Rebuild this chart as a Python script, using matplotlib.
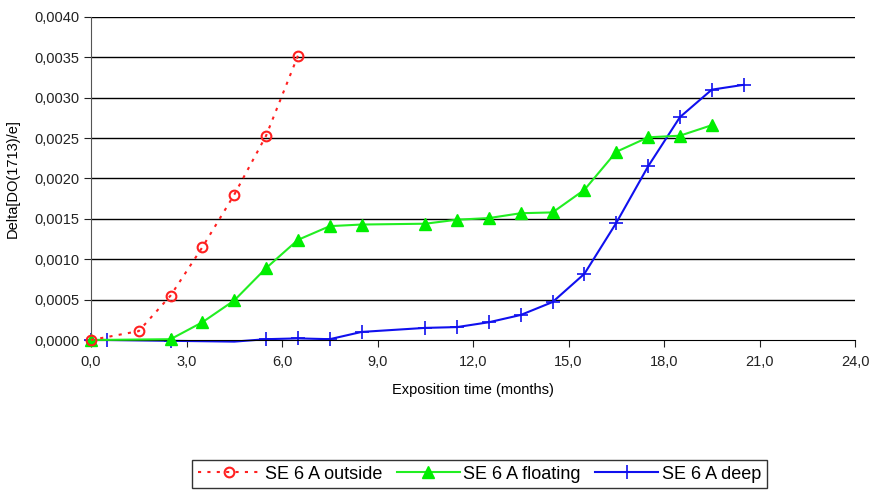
import numpy as np
import matplotlib
matplotlib.use("Agg")
import matplotlib.pyplot as plt
from matplotlib.ticker import FuncFormatter, MultipleLocator

plt.rcParams['font.family'] = ['Liberation Sans', 'DejaVu Sans']

# data
t_outside = [0, 1.5, 2.5, 3.5, 4.5, 5.5, 6.5]
outside = [0.0, 0.00011, 0.00055, 0.00115, 0.00180, 0.00253, 0.00352]

t_floating = [0, 2.5, 3.5, 4.5, 5.5, 6.5, 7.5, 8.5, 10.5, 11.5, 12.5, 13.5, 14.5,
              15.5, 16.5, 17.5, 18.5, 19.5]
floating = [0.0, 0.00001, 0.00022, 0.00049, 0.00089, 0.00124, 0.00141, 0.00143,
            0.00144, 0.00149, 0.00151, 0.00157, 0.00158, 0.00186, 0.00233,
            0.00251, 0.00253, 0.00266]

t_deep = [0, 0.5, 2.5, 4.5, 5.5, 6.5, 7.5, 8.5, 10.5, 11.5, 12.5, 13.5, 14.5,
          15.5, 16.5, 17.5, 18.5, 19.5, 20.5]
deep = [0.0, 0.0, -0.00001, -0.00002, 0.00001, 0.00002, 0.00001, 0.00010, 0.00015,
        0.00016, 0.00022, 0.00031, 0.00047, 0.00082, 0.00145, 0.00215, 0.00276,
        0.00310, 0.00316]

fig = plt.figure(figsize=(8.72, 4.94), dpi=100)
ax = fig.add_axes([91 / 872, 1 - 340 / 494, (855 - 91) / 872, (340 - 17) / 494])

for y in np.arange(0.0005, 0.0041, 0.0005):
    ax.axhline(y, color='black', lw=1.0, zorder=0)

ax.plot(t_outside, outside, color='#ff2020', ls=(0, (1.5, 3)), lw=1.5,
        marker='o', ms=7, mfc='none', mec='#ff2020', mew=1.5, label='SE 6 A outside',
        zorder=4, clip_on=False)
ax.plot(t_floating, floating, color='#22ee22', lw=1.5, marker='^', ms=8,
        mfc='#00ee00', mec='#00ee00', label='SE 6 A floating', zorder=3, clip_on=False)
ax.plot(t_deep, deep, color='#1010ee', lw=1.5, marker='+', ms=10, mew=1.2,
        markevery=[0, 1, 2, 4, 5, 6, 7, 8, 9, 10, 11, 12, 13, 14, 15, 16, 17, 18],
        label='SE 6 A deep', zorder=2, clip_on=False)

ax.set_xlim(0, 24)
ax.set_ylim(0, 0.004)
ax.xaxis.set_major_locator(MultipleLocator(3))
ax.yaxis.set_major_locator(MultipleLocator(0.0005))
ax.xaxis.set_major_formatter(FuncFormatter(lambda v, p: f"{v:.1f}".replace('.', ',')))
ax.yaxis.set_major_formatter(FuncFormatter(lambda v, p: f"{v:.4f}".replace('.', ',')))

for s in ['top', 'right']:
    ax.spines[s].set_visible(False)
ax.spines['left'].set_color('#555555')
ax.spines['bottom'].set_color('black')
ax.tick_params(direction='out', length=5, labelsize=10.5, colors='#222222')
ax.tick_params(axis='x', pad=6)
ax.set_xlabel('Exposition time (months)', fontsize=10.5, labelpad=10)
ax.set_ylabel('Delta[DO(1713)/e]', fontsize=10.5, labelpad=10)

leg = fig.legend(loc='lower center', bbox_to_anchor=(0.55, -0.006), ncol=3,
                 fontsize=13, frameon=True, fancybox=False, edgecolor='black',
                 handlelength=3.5, handletextpad=0.2, columnspacing=0.8,
                 borderpad=0.3)
leg.get_frame().set_linewidth(1.0)

fig.savefig('out.png', dpi=100)
